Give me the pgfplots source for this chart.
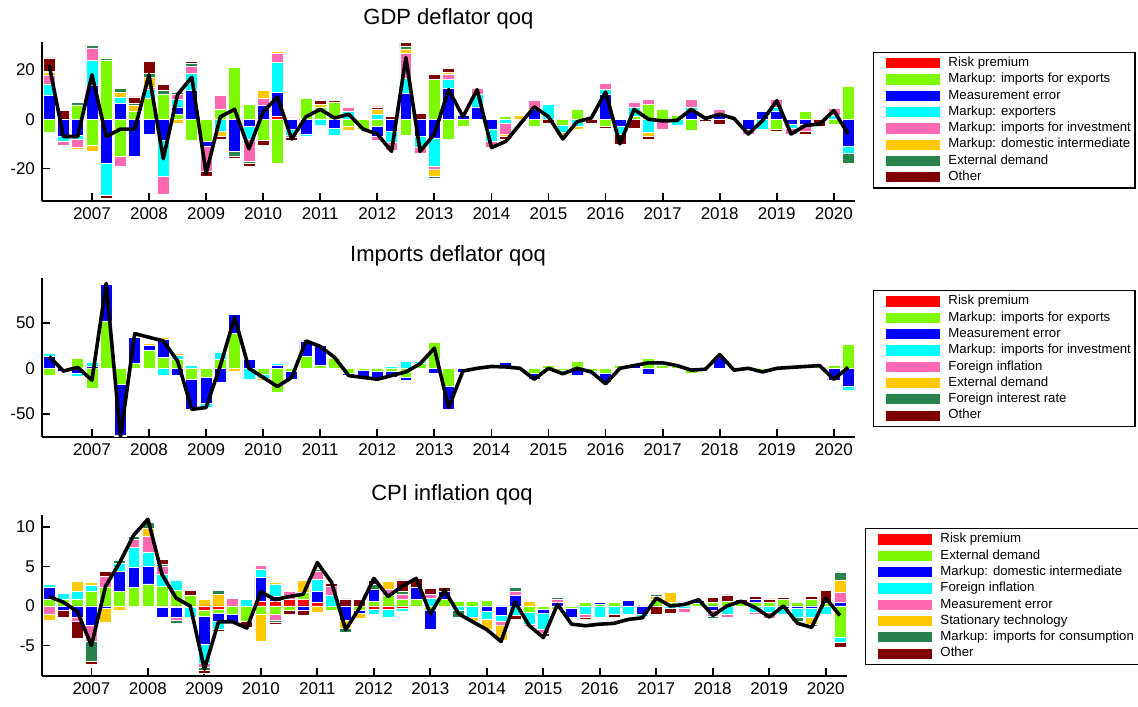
\documentclass[border=0pt]{standalone}
\usepackage{fontspec}
\setmainfont{Liberation Sans}
\usepackage{pgfplots}
\usepackage{pgfplotstable}
\pgfplotsset{compat=1.18}
\definecolor{cR}{RGB}{255,0,0}
\definecolor{cG}{RGB}{125,250,0}
\definecolor{cB}{RGB}{0,0,255}
\definecolor{cC}{RGB}{0,255,255}
\definecolor{cP}{RGB}{255,105,180}
\definecolor{cO}{RGB}{255,200,0}
\definecolor{cD}{RGB}{40,130,75}
\definecolor{cK}{RGB}{128,0,0}

\pgfplotstableread{
x R G B C P O D K L
2006.25 0 -5.5 9.8 4.5 3.5 1 0.5 5.5 22
2006.5 0 0 -7 -2 -1.5 0 0 3.5 -7
2006.75 0 5.8 -6.7 -1.5 -3 -1 1 0 -7
2007.0 0 -10.5 13.9 10 5 -2.7 1 0 18
2007.25 0 24 -17.7 -13 0 0 0.7 -1.3 -7
2007.5 0 -15 6.5 2.5 -4 2 1.5 0 -4
2007.75 0 3 -15 0 0 2.5 1 2.5 -4
2008.0 0 8.5 -6.3 3.5 1 4 1.5 5 18
2008.25 0 10 -8.5 -14.5 -7.5 0 1.5 2.5 -16
2008.5 0 2 3 3 2 -1.5 1 0 10
2008.75 0 -8.5 11.5 7 3 0 1 1 17
2009.0 0 -9 -2 0 -10 0 0 -2 -22
2009.25 0 4 0 -5 5.5 -2 0 -1 1
2009.5 0 21 -13 0 0 0 -2 -1 4
2009.75 0 6 -3 -5 -9 0 -1 -1 -12
2010.0 0 -8.5 5.5 0 3 3 0 -2 3
2010.25 1 -18 10 12 3.5 1 0 0 9
2010.5 0.5 0 -4 -2.5 -1 0 0 -1 -8
2010.75 0 8.5 -6 -1 0 0 0 0 1
2011.0 0 5 0 -2.5 0 1 0 1.5 4
2011.25 0 7 -3.5 -3 0 0 0 0.5 0.5
2011.5 0 -3 0 3 2 -1.5 0 0 2
2011.75 0 -4 0 0 0 0 0 0 -4
2012.0 0 -3 -4 2 -1.5 2 0 1 -6
2012.25 0 0 -5 -4.5 -3 0 0 1 -13
2012.5 0 -6.5 10.5 6 10 2 1 1.5 25
2012.75 0 0 -7 -4.5 -2.5 0 0 2.5 -13
2013.0 0 16 -7.7 -11.5 -1.3 -2.5 -1 2 -6
2013.25 0 -8 12.5 3.5 2 1 0 1.5 12
2013.5 0 -2.7 1.5 0 0 0 0 0 1
2013.75 0 0 5 5 2.5 0 0 0 12
2014.0 0 0 -4 -5 -2.4 0 0 0 -11.5
2014.25 0 1 0 -1.5 -4.5 -1 0 -1 -9
2014.5 0 0 0 0 0 1.5 0 0 -2
2014.75 0 -3 4 0 3.5 0 0 0 5
2015.0 0 0 0 6 0 0 0 -1.5 1
2015.25 0 -2.5 0 -3 0 -1 0 0 -8
2015.5 0 4 0 -3 0 -1 0 0 -1
2015.75 0 0 0 0 0 0 0 -1.5 0.5
2016.0 0 -3 10 2 2.5 0 0 -0.5 11
2016.25 0 0 -3 -3 0 0 0 -4 -10
2016.5 0 1 0 4 2 0 0 -3.5 4
2016.75 0 6 0 -5.5 2 -1.5 0 -1 0
2017.0 0 4 0 0 -4 0 0 0 -0.7
2017.25 0 1.5 0 -2.5 0 0 0 0 -0.5
2017.5 0 -4.5 3.5 1.5 3 0 0 0 4
2017.75 0 0 0 0 0 0 0 -1 0.3
2018.0 0 0 2 0 2 0 0 -2 2
2018.25 0 0.5 0 0 0 0 0 0 0.3
2018.5 0 0 -4 0 -2 0 0 0 -6
2018.75 0 0 3 -4 0 0 0 0 -0.5
2019.0 0 -4 3 2 3 0 0 -1 7.5
2019.25 0 0 -2 -1.5 -2.5 0 0 -0.5 -6
2019.5 0 3 -2 0 -3 0 0 -1 -2.5
2019.75 0 0 0 0 0 0 0 -3 -2
2020.0 0 -2 0 1.5 3 0 0 0 3.5
2020.25 0 13.5 -11 -3 0 0 -4 0 -6
}\tgdp

\pgfplotstableread{
x R G B C P O D K L
2006.25 0 -8 13 3 2 0 0 1 13
2006.5 0 0 -3 0 0 0 0 0 -3
2006.75 0 11 -6 -3 0 0 0 0 1
2007.0 0 -22 2 5 0 0 0 0 -13
2007.25 0 52 40 0 0 0 0 0 93
2007.5 0 -18 -55 -2 0 0 0 0 -75
2007.75 0 5 29 0 0 1 0 0 38
2008.0 0 20 5 0 0 2 0 0 34
2008.25 0 12 20 -8 0 2 0 0 30
2008.5 0 10 -8 4 0 2 0 0 8
2008.75 0 -12 -33 3 0 0 0 0 -45
2009.0 0 -10 -28 -5 0 0 0 0 -43
2009.25 0 10 -15 8 0 0 0 0 3
2009.5 0 38 21 0 0 -3 0 0 56
2009.75 0 0 10 -12 0 -1 0 0 0
2010.0 0 -7 0 -4 0 -2 0 0 -10
2010.25 0 -26 3 2 0 1 0 0 -20
2010.5 0 -3 -9 0 0 0 0 0 -10
2010.75 0 13 17 0 0 0 0 0 30
2011.0 0 3 22 0 0 0 0 0 24
2011.25 0 11 0 0 0 0 0 0 12
2011.5 0 -6 -2 0 0 0 0 0 -8
2011.75 0 -2 -8 0 0 0 0 0 -10
2012.0 0 -3 -8 0 0 0 0 0 -12
2012.25 0 -3 -7 2 0 0 0 0 -8
2012.5 0 -10 -3 8 0 0 0 0 -4
2012.75 0 5 0 3 0 0 0 0 5
2013.0 0 28 -5 0 0 0 0 0 22
2013.25 0 -20 -25 0 0 0 0 0 -43
2013.5 0 0 -4 0 0 0 0 0 -3
2013.75 0 1 0 0 0 0 0 0 0
2014.0 0 1 0 0 0 0 0 0 2
2014.25 0 0 6 0 0 0 0 0 1.5
2014.5 0 1 0 0 0 0 0 0 0
2014.75 0 -6 -6 0 0 0 0 0 -12
2015.0 0 3 0 -2 0 0 0 0 0
2015.25 0 -2 0 -2 0 0 0 0 -6
2015.5 0 8 -8 0 0 0 0 0 0
2015.75 0 -3 0 -2 0 0 0 0 -4
2016.0 0 -5 -10 0 0 0 0 0 -17
2016.25 0 3 0 1 0 0 0 0 0
2016.5 0 0 3 0 0 0 0 0 3
2016.75 0 11 -7 0 0 0 0 0 6
2017.0 0 3 0 2 0 0 0 0 6
2017.25 0 2 0 0 0 0 0 0 3
2017.5 0 -6 0 0 0 0 0 0 -2
2017.75 0 1 0 0 0 0 0 0 -1
2018.0 0 0 13 0 0 0 0 0 15
2018.25 0 0 0 0 0 0 0 0 -2
2018.5 0 1 0 0 0 0 0 0 0
2018.75 0 -3 0 0 0 0 0 0 -4
2019.0 0 1 0 0 0 0 0 0 0
2019.25 0 1 0 0 0 0 0 0 1
2019.5 0 2 0 0 0 0 0 0 2
2019.75 0 2 0 0 0 0 0 0 3
2020.0 0 3 -13 0 0 0 0 0 -12
2020.25 0 26 -20 -4 0 0 0 0 1
}\timp

\pgfplotstableread{
x R G B C P O D K L
2006.25 0 0.8 1.5 0.4 -1 -0.8 0 0 1.2
2006.5 0 0.8 -0.5 0.8 0 0 0 -1 0.5
2006.75 0 0.8 -1.5 1 -0.5 1.3 0 -2.1 -0.7
2007.0 0 1.8 -2.5 0.8 -2 0.4 -2.5 -0.4 -5
2007.25 0 2.3 -0.3 0 1.5 -1.8 0 0.6 2.5
2007.5 0 1.9 2.5 1 0 -0.6 0.4 0 5.5
2007.75 0 2.4 2.5 2.5 1 0 0.4 0 9
2008.0 0 2.8 2.2 1.8 2 1 0.8 0 11
2008.25 -0.2 2.5 -1.2 1.5 1 0 0.3 0.6 4
2008.5 -0.2 2 -1.3 1.3 -0.3 0 -0.4 0 1
2008.75 -0.2 1.3 0 -1.2 0 0 0 0.7 0
2009.0 -0.5 -0.8 -3.5 -2.5 -0.5 0.8 -0.4 -0.3 -8
2009.25 -0.4 -0.5 -1 -1 0 1.5 0.5 -0.3 -2
2009.5 0 -1 -1.2 0 1 0 0 0 -2
2009.75 0 -2 0 0.8 0 0 0 -0.7 -2.8
2010.0 0.6 -1 3 1 0.5 -3.5 0 0 1.8
2010.25 0.6 -1 0.6 1.5 -0.8 0.3 -0.3 -0.2 0.8
2010.5 0.8 -0.6 0 0 1 0 0 -0.4 1.2
2010.75 0.8 0.9 -0.6 0 0 1.5 0 -0.6 1.5
2011.0 0.5 0 1.4 1.5 1 -0.8 0.3 0 5.5
2011.25 0 -0.5 0 1.4 1.1 0 0 0.4 3
2011.5 0 0 -1.8 0 0 -1 -0.5 0.9 -3
2011.75 0 -0.6 -0.3 0 0 -0.7 0 0.8 -0.2
2012.0 -0.4 0.6 1.5 -0.6 0 0 0.6 0.5 3.5
2012.25 -0.4 1.3 0 -1 0.8 1 0 0 1.2
2012.5 -0.3 0.8 0 -0.4 0.7 0 0.4 1.4 2.5
2012.75 -0.2 0.8 1.5 0 0 0 0 1.2 3.5
2013.0 0 -0.5 -2.5 1 0.5 0 0 0.7 -1
2013.25 0 0.8 1 0 0 0 0 0.5 2
2013.5 0 0.6 0 -0.6 0 0 -0.8 0 -1
2013.75 0 0.6 0 -1.5 0 -0.5 0 0 -2
2014.0 0 0.7 -0.7 -1 0 -1.2 0 0 -3
2014.25 0 0 -1.2 -0.8 -0.4 -2 0 0 -4.5
2014.5 0 0 1.3 -1.2 0.5 0 0.5 -0.5 0.5
2014.75 0 -0.8 0 -1.5 -0.3 0.6 0 0 -2.5
2015.0 0 -0.4 -0.5 -2 -0.6 0 0 -0.4 -4
2015.25 0 -0.4 0.5 0 0.3 0 0.3 0 0.2
2015.5 0 -0.3 -1.2 0 0 0 0 0 -2.3
2015.75 0 0.5 0 -1 -0.5 0 0 -0.2 -2.5
2016.0 0 0.2 0.2 -1.5 0 0 0 0 -2.3
2016.25 0 0.5 0 -1 0 0 0 -0.5 -2.2
2016.5 0 0 0.7 -1 0 0 0 0 -1.7
2016.75 0 0 -1 -0.3 0 0 0 0 -1.5
2017.0 0 0.8 0 0 0 0.4 0.3 -1 1
2017.25 0 0.5 0 -0.3 0 1.2 0 -0.6 0
2017.5 0 0.3 0 -0.3 -0.5 0 0 0 0.2
2017.75 0 0.3 0.4 0 0 0 0 0 0.8
2018.0 0 0.5 -0.5 0 -0.8 0 -0.3 0.6 -1.2
2018.25 0 0.6 0 -1 -0.4 0 0 0.8 0
2018.5 0 0.5 0 0 0 0 0 0.3 0.6
2018.75 0 0.5 0.3 -0.8 -0.3 0 0 0.4 -0.2
2019.0 0 0.5 0 -0.8 -0.8 0 0 0.4 -1.4
2019.25 0 0.8 -0.3 -0.8 0 0 0 0.3 0
2019.5 0 0.5 -0.3 -1.2 0 0 -0.4 0 -2.2
2019.75 0 0.8 -0.3 -1.2 0 -0.8 -0.3 0.4 -2.7
2020.0 0 0.3 0 -1 0 0 0 1.7 1
2020.25 0 -4 0.5 -0.6 1.2 1.6 1 -0.6 -1.2
}\tcpi

\pgfplotsset{
  panel/.style={scale only axis, xmin=2006.125, xmax=2020.37, clip=true, anchor=south west},
  vis/.style={axis x line=bottom, axis y line=left,
    axis line style={-, line width=0.9pt, black},
    tick style={line width=0.9pt, black}, major tick length=4pt, tick align=inside,
    xtick={2007,...,2020},
    xticklabels={2007,2008,2009,2010,2011,2012,2013,2014,2015,2016,2017,2018,2019,2020},
    ticklabel style={font=\fontsize{8.5}{10}\selectfont},
    legend cell align=left,
    legend style={draw=black, line width=0.6pt, inner sep=1.5pt, row sep=0.35pt,
      font=\fontsize{6.6}{7.5}\selectfont,
      nodes={inner sep=0.6pt, text height=5pt, text depth=1.6pt},
      anchor=north west}},
  bars/.style={ybar stacked, bar width=0.21},
  seg/.style={fill=#1, draw=white, line width=0.35pt,
    legend image code/.code={\path (-4.5pt,0pt) (30.5pt,0pt); \fill[#1] (0pt,-2.3pt) rectangle (26.5pt,2.3pt);}},
  lin/.style={black, line width=1.8pt, line join=round, mark=none},
}

\newcommand{\posplots}[1]{%
  \addplot[seg=cR] table[x=x, y expr={max(\thisrow{R},0)}] #1;
  \addplot[seg=cG] table[x=x, y expr={max(\thisrow{G},0)}] #1;
  \addplot[seg=cB] table[x=x, y expr={max(\thisrow{B},0)}] #1;
  \addplot[seg=cC] table[x=x, y expr={max(\thisrow{C},0)}] #1;
  \addplot[seg=cP] table[x=x, y expr={max(\thisrow{P},0)}] #1;
  \addplot[seg=cO] table[x=x, y expr={max(\thisrow{O},0)}] #1;
  \addplot[seg=cD] table[x=x, y expr={max(\thisrow{D},0)}] #1;
  \addplot[seg=cK] table[x=x, y expr={max(\thisrow{K},0)}] #1;
}
\newcommand{\negplots}[1]{%
  \addplot[seg=cR] table[x=x, y expr={min(\thisrow{R},0)}] #1;
  \addplot[seg=cG] table[x=x, y expr={min(\thisrow{G},0)}] #1;
  \addplot[seg=cB] table[x=x, y expr={min(\thisrow{B},0)}] #1;
  \addplot[seg=cC] table[x=x, y expr={min(\thisrow{C},0)}] #1;
  \addplot[seg=cP] table[x=x, y expr={min(\thisrow{P},0)}] #1;
  \addplot[seg=cO] table[x=x, y expr={min(\thisrow{O},0)}] #1;
  \addplot[seg=cD] table[x=x, y expr={min(\thisrow{D},0)}] #1;
  \addplot[seg=cK] table[x=x, y expr={min(\thisrow{K},0)}] #1;
}

\begin{document}
\begin{tikzpicture}
\useasboundingbox (0pt,0pt) rectangle (569pt,353pt);

% ---------- Panel 1: GDP deflator ----------
\begin{axis}[panel, vis, bars, at={(21pt,252.65pt)}, width=406.5pt, height=79.5pt,
  ymin=-33, ymax=31.4, ytick={-20,0,20}, yticklabels={-20,0,20},
  legend style={at={(1.0221,0.9371)}}]
\posplots{\tgdp}
\legend{Risk premium,Markup: imports for exports,Measurement error,Markup: exporters,Markup: imports for investment,Markup: domestic intermediate,External demand,Other}
\end{axis}
\begin{axis}[panel, bars, hide axis, at={(21pt,252.65pt)}, width=406.5pt, height=79.5pt,
  ymin=-33, ymax=31.4]
\negplots{\tgdp}
\end{axis}
\begin{axis}[panel, hide axis, at={(21pt,252.65pt)}, width=406.5pt, height=79.5pt,
  ymin=-33, ymax=31.4]
\addplot[lin] table[x=x, y=L] \tgdp;
\end{axis}
\node[anchor=base, font=\fontsize{11}{13}\selectfont] at (224.2pt,340.5pt) {GDP deflator qoq};

% ---------- Panel 2: Imports deflator ----------
\begin{axis}[panel, vis, bars, at={(21pt,134.65pt)}, width=406.5pt, height=79.2pt,
  ymin=-75, ymax=98.7, ytick={-50,0,50}, yticklabels={-50,0,50},
  legend style={at={(1.0221,0.926)}}]
\posplots{\timp}
\legend{Risk premium,Markup: imports for exports,Measurement error,Markup: imports for investment,Foreign inflation,External demand,Foreign interest rate,Other}
\end{axis}
\begin{axis}[panel, bars, hide axis, at={(21pt,134.65pt)}, width=406.5pt, height=79.2pt,
  ymin=-75, ymax=98.7]
\negplots{\timp}
\end{axis}
\begin{axis}[panel, hide axis, at={(21pt,134.65pt)}, width=406.5pt, height=79.2pt,
  ymin=-75, ymax=98.7]
\addplot[lin] table[x=x, y=L] \timp;
\end{axis}
\node[anchor=base, font=\fontsize{11}{13}\selectfont] at (224pt,222.15pt) {Imports deflator qoq};

% ---------- Panel 3: CPI inflation ----------
\begin{axis}[panel, vis, bars, at={(21pt,15pt)}, width=402.35pt, height=80.5pt,
  ymin=-8.87, ymax=11.53, ytick={-5,0,5,10}, yticklabels={-5,0,5,10},
  legend style={at={(1.0227,0.919)}}]
\posplots{\tcpi}
\legend{Risk premium,External demand,Markup: domestic intermediate,Foreign inflation,Measurement error,Stationary technology,Markup: imports for consumption,Other}
\end{axis}
\begin{axis}[panel, bars, hide axis, at={(21pt,15pt)}, width=402.35pt, height=80.5pt,
  ymin=-8.87, ymax=11.53]
\negplots{\tcpi}
\end{axis}
\begin{axis}[panel, hide axis, at={(21pt,15pt)}, width=402.35pt, height=80.5pt,
  ymin=-8.87, ymax=11.53]
\addplot[lin] table[x=x, y=L] \tcpi;
\end{axis}
\node[anchor=base, font=\fontsize{11}{13}\selectfont] at (226pt,102.5pt) {CPI inflation qoq};
\end{tikzpicture}
\end{document}
